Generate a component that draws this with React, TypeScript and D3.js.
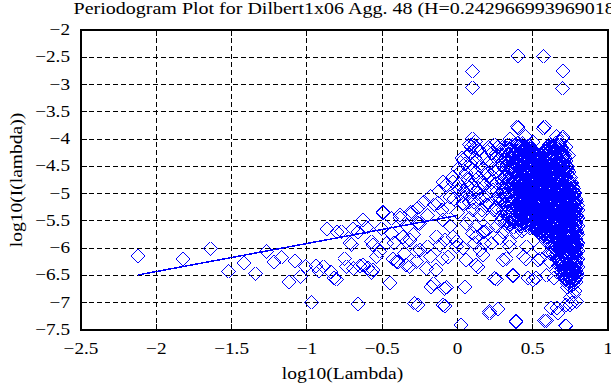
import React from "react";
import * as d3 from "d3";

// periodogram points, [log10(lambda), log10(I(lambda))]
const lowFreq: [number, number][] = [
  [-2.12, -6.14], [-1.82, -6.2], [-1.64, -6.01], [-1.52, -6.42], [-1.42, -6.27],
  [-1.34, -6.47], [-1.27, -6.06], [-1.22, -6.25], [-1.17, -6.17], [-1.12, -6.62],
  [-1.08, -6.23], [-1.04, -6.52], [-1.01, -6.33], [-0.97, -6.99], [-0.94, -6.33],
  [-0.92, -6.42], [-0.89, -6.34], [-0.865, -5.65], [-0.84, -6.43], [-0.82, -6.55],
  [-0.803, -6.57], [-0.8, -5.7], [-0.77, -5.7], [-0.748, -6.19], [-0.737, -6.34],
  [-0.715, -5.91], [-0.704, -5.94], [-0.693, -5.65], [-0.69, -6.37], [-0.66, -7.02],
  [-0.66, -5.7], [-0.649, -6.33], [-0.627, -5.48], [-0.627, -6.31], [-0.604, -5.62],
  [-0.594, -6.37], [-0.571, -6.45], [-0.571, -5.88], [-0.56, -5.94], [-0.56, -6.4],
  [-0.538, -6.16], [-0.516, -6.06], [-0.505, -5.64], [-0.494, -5.33], [-0.494, -5.36],
  [-0.472, -5.91], [-0.45, -6.64], [-0.438, -5.45], [-0.438, -5.73], [-0.428, -6.19],
  [-0.42, -5.9], [-0.405, -6.25], [-0.395, -6.25], [-0.383, -5.45], [-0.383, -5.39],
  [-0.361, -5.79], [-0.35, -6.1], [-0.339, -5.88], [-0.339, -6.31], [-0.33, -5.6],
  [-0.317, -6.34], [-0.317, -5.85], [-0.317, -5.36], [-0.306, -5.33], [-0.29, -5.75],
  [-0.284, -7.01], [-0.273, -6.25], [-0.272, -6.06], [-0.262, -5.54], [-0.262, -7.04],
  [-0.25, -6.03], [-0.25, -5.55], [-0.206, -6.37], [-0.196, -5.97], [-0.18, -6.15],
  [-0.173, -6.71], [-0.16, -6.65], [-0.14, -6.4], [-0.14, -5.79], [-0.118, -5.94],
  [-0.1, -6.19], [-0.096, -5.48], [-0.096, -7.04], [-0.085, -5.85], [-0.085, -6.74],
  [-0.085, -7.06], [-0.07, -6.72], [-0.063, -6.16], [-0.03, -5.79], [-0.007, -5.88],
  [-0.007, -5.97], [0.026, -7.41], [0.037, -6.0], [0.048, -6.71], [0.059, -6.22],
];

const midFreq: [number, number][] = [
  [-0.3, -5.35], [-0.26, -5.25], [-0.22, -5.15], [-0.2, -5.4], [-0.18, -5.05],
  [-0.15, -5.2], [-0.129, -5.18], [-0.12, -4.95], [-0.1, -5.3], [-0.096, -4.78],
  [-0.08, -4.85], [-0.051, -5.06], [-0.05, -5.6], [-0.03, -4.7], [-0.03, -4.78],
  [0.0, -4.95], [0.0, -5.35], [0.015, -4.93], [0.02, -4.6], [0.037, -4.38],
  [0.037, -5.18], [0.04, -5.2], [0.05, -4.45], [0.06, -5.55], [0.07, -4.75],
  [0.07, -4.87], [0.08, -5.05], [0.08, -5.45], [0.09, -4.25], [0.1, -4.55],
  [0.103, -5.3], [0.103, -5.73], [0.11, -4.9], [0.115, -5.91], [0.12, -4.15],
  [0.12, -5.6], [0.125, -6.31], [0.126, -4.75], [0.126, -5.79], [0.13, -4.4],
  [0.137, -6.34], [0.14, -4.7], [0.148, -6.03], [0.15, -5.1], [0.15, -5.4],
  [0.16, -4.3], [0.17, -4.55], [0.17, -5.06], [0.17, -5.7], [0.17, -6.12],
  [0.18, -4.85], [0.18, -5.7], [0.18, -5.91], [0.19, -5.2], [0.2, -4.45],
  [0.2, -5.65], [0.21, -4.7], [0.213, -4.2], [0.213, -7.19], [0.213, -7.16],
  [0.22, -4.95], [0.22, -5.45], [0.225, -5.91], [0.23, -4.25], [0.236, -4.93],
  [0.24, -5.3], [0.247, -6.55], [0.25, -4.6], [0.258, -6.57], [0.26, -4.8],
  [0.26, -5.6], [0.269, -4.14], [0.269, -7.12], [0.27, -5.05], [0.28, -4.35],
  [0.28, -4.69], [0.28, -5.82], [0.29, -5.5], [0.303, -5.7], [0.303, -6.22],
  [0.325, -6.19], [0.347, -5.88], [0.347, -5.97], [0.369, -6.49], [0.369, -6.51],
  [0.39, -5.7], [0.39, -7.33], [0.39, -7.35], [0.43, -5.68], [0.44, -6.15],
  [0.457, -5.97], [0.457, -6.2], [0.47, -6.55], [0.5, -6.58], [0.52, -6.55],
  [0.534, -6.22], [0.546, -6.0], [0.55, -6.19], [0.58, -7.33], [0.59, -6.5],
  [0.59, -7.33], [0.612, -6.25], [0.62, -6.1], [0.623, -7.1], [0.634, -6.09],
  [0.64, -6.55], [0.656, -6.43], [0.66, -7.1], [0.667, -7.19], [0.67, -6.2],
  [0.72, -7.04], [0.72, -7.42], [0.723, -7.43], [0.734, -6.72], [0.745, -7.04],
  [0.76, -7.0], [0.77, -6.85], [0.79, -6.98], [0.78, -6.78], [0.75, -6.9],
];

// the crowded band rising into the high-frequency block
const midBand: [number, number][] = [
  [0.005, -4.55], [0.01, -4.82], [0.025, -5.05], [0.03, -4.35], [0.045, -4.95],
  [0.055, -4.62], [0.065, -4.3], [0.075, -5.15], [0.085, -4.45], [0.095, -4.85],
  [0.105, -4.1], [0.115, -4.35], [0.125, -4.6], [0.135, -5.0], [0.145, -4.2],
  [0.155, -4.5], [0.165, -4.8], [0.175, -4.35], [0.185, -5.05], [0.195, -4.6],
  [0.205, -4.15], [0.215, -4.4], [0.225, -4.8], [0.235, -4.55], [0.245, -4.1],
  [0.255, -4.35], [0.265, -4.95], [0.275, -4.55], [0.285, -4.2], [0.295, -4.75],
  [0.21, -5.2], [0.255, -5.25], [0.165, -5.3], [0.285, -5.1], [-0.06, -5.25],
  [-0.02, -5.1], [0.06, -5.0], [0.11, -5.15], [0.14, -4.9], [0.09, -4.15],
];

// dense block at the high-frequency end: column x with the y values in it
const highCols: [number, number[]][] = [
  [0.3, [-4.15, -4.3, -4.47, -4.62, -4.8, -4.96, -5.12, -5.3, -5.45]],
  [0.31, [-4.22, -4.38, -4.54, -4.7, -4.87, -5.03, -5.2, -5.36]],
  [0.32, [-4.22, -4.38, -4.55, -4.7, -4.88, -5.04, -5.2, -5.38, -5.55]],
  [0.33, [-4.16, -4.33, -4.5, -4.66, -4.83, -5.0, -5.16, -5.33, -5.5]],
  [0.34, [-4.1, -4.28, -4.42, -4.6, -4.75, -4.93, -5.1, -5.25, -5.42, -5.6]],
  [0.35, [-4.18, -4.35, -4.51, -4.68, -4.84, -5.01, -5.18, -5.35, -5.52]],
  [0.36, [-4.2, -4.35, -4.52, -4.66, -4.82, -4.98, -5.15, -5.33, -5.5]],
  [0.37, [-4.1, -4.27, -4.44, -4.6, -4.77, -4.93, -5.1, -5.27, -5.44, -5.62]],
  [0.38, [-4.12, -4.25, -4.4, -4.56, -4.7, -4.86, -5.0, -5.18, -5.35, -5.52]],
  [0.39, [-4.18, -4.32, -4.47, -4.62, -4.77, -4.92, -5.07, -5.22, -5.37, -5.5]],
  [0.4, [-4.08, -4.22, -4.35, -4.48, -4.6, -4.73, -4.85, -4.98, -5.1, -5.26, -5.4, -5.55]],
  [0.41, [-4.14, -4.28, -4.42, -4.54, -4.67, -4.8, -4.93, -5.05, -5.18, -5.33, -5.48]],
  [0.42, [-4.15, -4.28, -4.4, -4.53, -4.65, -4.78, -4.9, -5.05, -5.18, -5.3, -5.46, -5.6]],
  [0.43, [-4.08, -4.21, -4.34, -4.47, -4.59, -4.72, -4.85, -4.97, -5.11, -5.24, -5.38, -5.53]],
  [0.44, [-4.1, -4.2, -4.33, -4.45, -4.58, -4.7, -4.83, -4.95, -5.08, -5.2, -5.35, -5.5, -5.65]],
  [0.45, [-4.15, -4.27, -4.39, -4.51, -4.63, -4.76, -4.88, -5.0, -5.13, -5.26, -5.4, -5.58]],
  [0.46, [-4.18, -4.3, -4.42, -4.55, -4.68, -4.8, -4.92, -5.05, -5.16, -5.28, -5.42, -5.55]],
  [0.47, [-4.12, -4.24, -4.36, -4.49, -4.61, -4.74, -4.86, -4.98, -5.1, -5.22, -5.35, -5.48, -5.6]],
  [0.48, [-4.12, -4.25, -4.38, -4.5, -4.62, -4.75, -4.88, -5.0, -5.12, -5.25, -5.38, -5.5, -5.63]],
  [0.49, [-4.18, -4.3, -4.43, -4.56, -4.68, -4.8, -4.92, -5.05, -5.18, -5.3, -5.43, -5.56]],
  [0.5, [-4.2, -4.32, -4.45, -4.58, -4.7, -4.83, -4.95, -5.08, -5.2, -5.32, -5.45, -5.58]],
  [0.51, [-4.25, -4.37, -4.49, -4.62, -4.74, -4.86, -4.99, -5.12, -5.24, -5.36, -5.49, -5.62]],
  [0.52, [-4.28, -4.4, -4.52, -4.65, -4.78, -4.9, -5.02, -5.15, -5.28, -5.4, -5.52, -5.66]],
  [0.53, [-4.3, -4.41, -4.53, -4.64, -4.76, -4.88, -5.01, -5.14, -5.26, -5.39, -5.52, -5.64]],
  [0.54, [-4.35, -4.46, -4.58, -4.7, -4.82, -4.95, -5.08, -5.2, -5.32, -5.45, -5.58, -5.7]],
  [0.55, [-4.4, -4.51, -4.63, -4.75, -4.87, -4.99, -5.12, -5.25, -5.37, -5.5, -5.62, -5.74]],
  [0.56, [-4.3, -4.42, -4.55, -4.68, -4.8, -4.92, -5.05, -5.18, -5.3, -5.42, -5.55, -5.68]],
  [0.57, [-4.26, -4.38, -4.5, -4.62, -4.74, -4.87, -5.0, -5.12, -5.25, -5.37, -5.5, -5.63, -5.78]],
  [0.58, [-4.22, -4.35, -4.48, -4.6, -4.72, -4.85, -4.98, -5.1, -5.22, -5.35, -5.48, -5.6, -5.75]],
  [0.59, [-4.18, -4.31, -4.43, -4.55, -4.68, -4.8, -4.93, -5.06, -5.18, -5.31, -5.43, -5.56, -5.7]],
  [0.6, [-4.15, -4.28, -4.4, -4.52, -4.65, -4.78, -4.9, -5.02, -5.15, -5.28, -5.4, -5.52, -5.65, -5.8]],
  [0.61, [-4.1, -4.22, -4.34, -4.47, -4.59, -4.71, -4.84, -4.96, -5.09, -5.22, -5.34, -5.47, -5.6, -5.74, -5.9]],
  [0.62, [-4.2, -4.32, -4.45, -4.58, -4.7, -4.82, -4.95, -5.08, -5.2, -5.32, -5.45, -5.58, -5.7, -5.85]],
  [0.63, [-4.16, -4.28, -4.41, -4.53, -4.66, -4.78, -4.9, -5.03, -5.15, -5.28, -5.41, -5.53, -5.66, -5.8, -5.96]],
  [0.64, [-4.12, -4.25, -4.38, -4.5, -4.62, -4.75, -4.88, -5.0, -5.12, -5.25, -5.38, -5.5, -5.62, -5.75, -5.9]],
  [0.65, [-4.08, -4.2, -4.32, -4.45, -4.57, -4.7, -4.82, -4.95, -5.07, -5.2, -5.32, -5.45, -5.58, -5.7, -5.84, -6.0, -6.15]],
  [0.66, [-4.18, -4.3, -4.42, -4.55, -4.68, -4.8, -4.92, -5.05, -5.18, -5.3, -5.42, -5.55, -5.68, -5.8, -5.95, -6.1]],
  [0.67, [-4.14, -4.26, -4.38, -4.5, -4.63, -4.75, -4.87, -5.0, -5.12, -5.25, -5.37, -5.5, -5.62, -5.75, -5.88, -6.02, -6.18, -6.32]],
  [0.68, [-4.1, -4.25, -4.38, -4.5, -4.62, -4.75, -4.88, -5.0, -5.12, -5.25, -5.38, -5.5, -5.62, -5.75, -5.88, -6.0, -6.15, -6.3]],
  [0.69, [-4.16, -4.3, -4.43, -4.55, -4.68, -4.8, -4.93, -5.05, -5.17, -5.3, -5.42, -5.55, -5.67, -5.8, -5.92, -6.05, -6.18, -6.3, -6.45]],
  [0.7, [-4.2, -4.35, -4.48, -4.6, -4.72, -4.85, -4.98, -5.1, -5.22, -5.35, -5.48, -5.6, -5.72, -5.85, -5.98, -6.1, -6.22, -6.35, -6.5]],
  [0.71, [-4.28, -4.42, -4.55, -4.67, -4.79, -4.91, -5.03, -5.15, -5.27, -5.4, -5.52, -5.64, -5.77, -5.9, -6.02, -6.15, -6.27, -6.4, -6.55]],
  [0.72, [-4.4, -4.55, -4.7, -4.82, -4.95, -5.08, -5.2, -5.32, -5.45, -5.58, -5.7, -5.82, -5.95, -6.08, -6.2, -6.32, -6.45, -6.58]],
  [0.73, [-4.5, -4.63, -4.76, -4.89, -5.02, -5.14, -5.26, -5.38, -5.51, -5.64, -5.76, -5.88, -6.01, -6.14, -6.27, -6.4, -6.52, -6.65]],
  [0.74, [-4.6, -4.75, -4.88, -5.0, -5.12, -5.25, -5.38, -5.5, -5.62, -5.75, -5.88, -6.0, -6.12, -6.25, -6.38, -6.5, -6.62]],
  [0.75, [-4.7, -4.82, -4.95, -5.07, -5.19, -5.31, -5.44, -5.56, -5.69, -5.81, -5.93, -6.06, -6.18, -6.31, -6.44, -6.56, -6.7]],
  [0.76, [-4.8, -4.95, -5.1, -5.22, -5.35, -5.48, -5.6, -5.72, -5.85, -5.98, -6.1, -6.22, -6.35, -6.48, -6.6]],
  [0.77, [-4.9, -5.03, -5.16, -5.28, -5.41, -5.53, -5.66, -5.78, -5.91, -6.03, -6.15, -6.28, -6.41, -6.53, -6.66]],
  [0.78, [-5.0, -5.15, -5.3, -5.45, -5.58, -5.7, -5.82, -5.95, -6.08, -6.2, -6.32, -6.45, -6.58]],
  [0.79, [-5.15, -5.28, -5.4, -5.52, -5.65, -5.77, -5.89, -6.02, -6.14, -6.27, -6.4, -6.52, -6.62]],
  [0.8, [-5.3, -5.45, -5.6, -5.75, -5.9, -6.05, -6.2, -6.35, -6.5]],
];

// further points packed into the core of the block, between the columns above
const coreCols: [number, number[]][] = [
  [0.405, [-4.19, -4.41, -4.66, -4.91, -5.17, -5.44]],
  [0.415, [-4.11, -4.36, -4.6, -4.86, -5.12, -5.38, -5.56]],
  [0.425, [-4.24, -4.47, -4.71, -4.97, -5.24, -5.5]],
  [0.435, [-4.14, -4.39, -4.64, -4.9, -5.16, -5.43]],
  [0.445, [-4.26, -4.52, -4.76, -5.02, -5.28, -5.54]],
  [0.455, [-4.21, -4.45, -4.7, -4.95, -5.2, -5.47]],
  [0.465, [-4.13, -4.37, -4.62, -4.87, -5.12, -5.38, -5.56]],
  [0.475, [-4.27, -4.52, -4.77, -5.03, -5.29, -5.52]],
  [0.485, [-4.18, -4.43, -4.68, -4.93, -5.19, -5.45]],
  [0.495, [-4.24, -4.49, -4.74, -5.0, -5.25, -5.52]],
  [0.505, [-4.34, -4.57, -4.81, -5.05, -5.3, -5.57]],
  [0.515, [-4.31, -4.55, -4.8, -5.06, -5.31, -5.6]],
  [0.525, [-4.36, -4.6, -4.85, -5.1, -5.35, -5.61]],
  [0.535, [-4.4, -4.64, -4.88, -5.13, -5.38, -5.66]],
  [0.545, [-4.38, -4.62, -4.86, -5.11, -5.36, -5.63]],
  [0.555, [-4.45, -4.68, -4.92, -5.17, -5.42, -5.7]],
  [0.565, [-4.34, -4.58, -4.83, -5.08, -5.33, -5.6]],
  [0.575, [-4.28, -4.53, -4.78, -5.03, -5.28, -5.55, -5.76]],
  [0.585, [-4.25, -4.5, -4.75, -5.0, -5.26, -5.52, -5.72]],
  [0.595, [-4.22, -4.46, -4.71, -4.96, -5.22, -5.48, -5.74]],
  [0.605, [-4.19, -4.44, -4.69, -4.94, -5.2, -5.46, -5.72]],
  [0.615, [-4.15, -4.4, -4.64, -4.9, -5.15, -5.41, -5.67, -5.86]],
  [0.625, [-4.24, -4.48, -4.73, -4.98, -5.24, -5.5, -5.77]],
  [0.635, [-4.18, -4.43, -4.68, -4.94, -5.2, -5.46, -5.72, -5.92]],
  [0.645, [-4.14, -4.39, -4.64, -4.9, -5.16, -5.42, -5.69, -5.95]],
  [0.655, [-4.21, -4.46, -4.71, -4.97, -5.23, -5.5, -5.76, -6.04]],
  [0.665, [-4.16, -4.41, -4.66, -4.92, -5.18, -5.45, -5.72, -5.99, -6.2]],
  [0.675, [-4.2, -4.45, -4.7, -4.96, -5.22, -5.48, -5.75, -6.03, -6.24]],
  [0.685, [-4.14, -4.4, -4.66, -4.92, -5.18, -5.44, -5.7, -5.97, -6.22]],
  [0.695, [-4.26, -4.51, -4.76, -5.02, -5.28, -5.54, -5.8, -6.07, -6.38]],
  [0.705, [-4.31, -4.56, -4.81, -5.06, -5.32, -5.58, -5.84, -6.12, -6.42]],
  [0.715, [-4.35, -4.6, -4.86, -5.12, -5.38, -5.64, -5.9, -6.17, -6.48]],
  [0.725, [-4.5, -4.74, -4.99, -5.25, -5.5, -5.76, -6.02, -6.3, -6.56]],
  [0.735, [-4.57, -4.81, -5.06, -5.31, -5.57, -5.83, -6.09, -6.36, -6.6]],
  [0.745, [-4.68, -4.92, -5.17, -5.42, -5.67, -5.93, -6.19, -6.46]],
  [0.755, [-4.78, -5.02, -5.27, -5.52, -5.77, -6.03, -6.29, -6.55]],
  [0.765, [-4.88, -5.12, -5.37, -5.62, -5.87, -6.13, -6.39, -6.62]],
  [0.775, [-4.98, -5.22, -5.47, -5.72, -5.97, -6.23, -6.48]],
  [0.785, [-5.1, -5.34, -5.58, -5.83, -6.08, -6.33, -6.56]],
  [0.795, [-5.22, -5.46, -5.71, -5.96, -6.21, -6.45]],
];

const outliers: [number, number][] = [
  [0.099, -2.76], [0.099, -3.06], [0.402, -2.48], [0.572, -2.48], [0.7, -2.75],
  [0.7, -3.07], [0.402, -3.8], [0.572, -3.8], [0.099, -3.99], [0.7, -3.99],
  [0.402, -3.77], [0.579, -3.77], [0.103, -3.99], [0.7, -3.96], [0.45, -3.95],
  [0.5, -4.05], [0.35, -4.0], [0.66, -3.95], [0.68, -4.05], [0.72, -4.15],
  [0.74, -4.3], [0.08, -4.1], [0.12, -4.05],
];

// least squares fit line shown in the plot
const fitX = [-2.12, 0.0];
const fitSlope = 0.514;
const fitIntercept = -5.4;

const xTicks = [-2.5, -2, -1.5, -1, -0.5, 0, 0.5, 1];
const yTicks = [-2, -2.5, -3, -3.5, -4, -4.5, -5, -5.5, -6, -6.5, -7, -7.5];

const title = "Periodogram Plot for Dilbert1x06 Agg. 48 (H=0.242966993969018)";

const W = 611;
const H = 385;
const m = { left: 81, right: 608, top: 30, bottom: 330 };
const font = "'Liberation Serif', 'Times New Roman', serif";
const blue = "#0000ff";

const fmt = (v: number) => (v < 0 ? "\u2212" + String(-v) : String(v));

const App = () => {
  const x = d3.scaleLinear().domain([-2.5, 1]).range([m.left, m.right]);
  const y = d3.scaleLinear().domain([-7.5, -2]).range([m.bottom, m.top]);

  const fromCols = (cols: [number, number[]][]) =>
    cols.flatMap(([cx, ys]) => ys.map((v) => [cx, v] as [number, number]));

  const points: [number, number][] = [
    ...lowFreq,
    ...midFreq,
    ...midBand,
    ...fromCols(highCols),
    ...fromCols(coreCols),
    ...outliers,
  ];

  const diamond = d3.symbol(d3.symbolSquare, 98)();
  const fitLine = d3
    .line<number>()
    .x((d) => x(d))
    .y((d) => y(fitIntercept + fitSlope * d));

  const tickLen = 6;

  return (
    <svg
      width={W}
      height={H}
      style={{ position: "absolute", left: 0, top: 0, background: "#fff" }}
      fontFamily={font}
    >
      <defs>
        <clipPath id="plotClip">
          <rect x={m.left} y={m.top} width={m.right - m.left} height={m.bottom - m.top} />
        </clipPath>
      </defs>
      <rect width={W} height={H} fill="#fff" />

      {/* grid */}
      <g stroke="#000" strokeWidth={1} strokeDasharray="5,3" shapeRendering="crispEdges">
        {xTicks.slice(1, -1).map((t) => (
          <line key={"gx" + t} x1={x(t)} x2={x(t)} y1={m.top} y2={m.bottom} />
        ))}
        {yTicks.slice(1, -1).map((t) => (
          <line key={"gy" + t} x1={m.left} x2={m.right} y1={y(t)} y2={y(t)} />
        ))}
      </g>

      {/* data */}
      <g clipPath="url(#plotClip)">
        <g fill="none" stroke={blue} strokeWidth={1} shapeRendering="crispEdges">
          {points.map((p, i) => (
            <path
              key={i}
              d={diamond as string}
              transform={`translate(${x(p[0])},${y(p[1])}) rotate(45)`}
            />
          ))}
        </g>
        <path
          d={fitLine(fitX) as string}
          fill="none"
          stroke={blue}
          strokeWidth={1.5}
          shapeRendering="crispEdges"
        />
      </g>

      {/* ticks */}
      <g stroke="#000" strokeWidth={1} shapeRendering="crispEdges">
        {xTicks.map((t) => (
          <g key={"tx" + t}>
            <line x1={x(t)} x2={x(t)} y1={m.bottom} y2={m.bottom - tickLen} />
            <line x1={x(t)} x2={x(t)} y1={m.top} y2={m.top + tickLen} />
          </g>
        ))}
        {yTicks.map((t) => (
          <g key={"ty" + t}>
            <line x1={m.left} x2={m.left + tickLen} y1={y(t)} y2={y(t)} />
            <line x1={m.right} x2={m.right - tickLen} y1={y(t)} y2={y(t)} />
          </g>
        ))}
      </g>
      <rect
        x={m.left}
        y={m.top}
        width={m.right - m.left}
        height={m.bottom - m.top}
        fill="none"
        stroke="#000"
        strokeWidth={2}
        shapeRendering="crispEdges"
      />

      {/* tick labels */}
      <g fontSize={16} fill="#000">
        {xTicks.map((t) => (
          <g key={"lx" + t} transform={`translate(${x(t)},${m.bottom + 24}) scale(1.2,1)`}>
            <text textAnchor="middle">{fmt(t)}</text>
          </g>
        ))}
        {yTicks.map((t) => (
          <g key={"ly" + t} transform={`translate(${m.left - 11},${y(t) + 5}) scale(1.2,1)`}>
            <text textAnchor="end">{fmt(t)}</text>
          </g>
        ))}
      </g>

      {/* axis titles */}
      <g fontSize={16} fill="#000">
        <g transform={`translate(${(m.left + m.right) / 2 - 2},379) scale(1.22,1)`}>
          <text textAnchor="middle">log10(Lambda)</text>
        </g>
        <g transform={`translate(22,${(m.top + m.bottom) / 2}) rotate(-90) scale(1.22,1)`}>
          <text textAnchor="middle">log10(I(lambda))</text>
        </g>
        <g transform={`translate(${(m.left + m.right) / 2 + 3},14) scale(1.25,1)`}>
          <text textAnchor="middle">{title}</text>
        </g>
      </g>
    </svg>
  );
};

export default App;
